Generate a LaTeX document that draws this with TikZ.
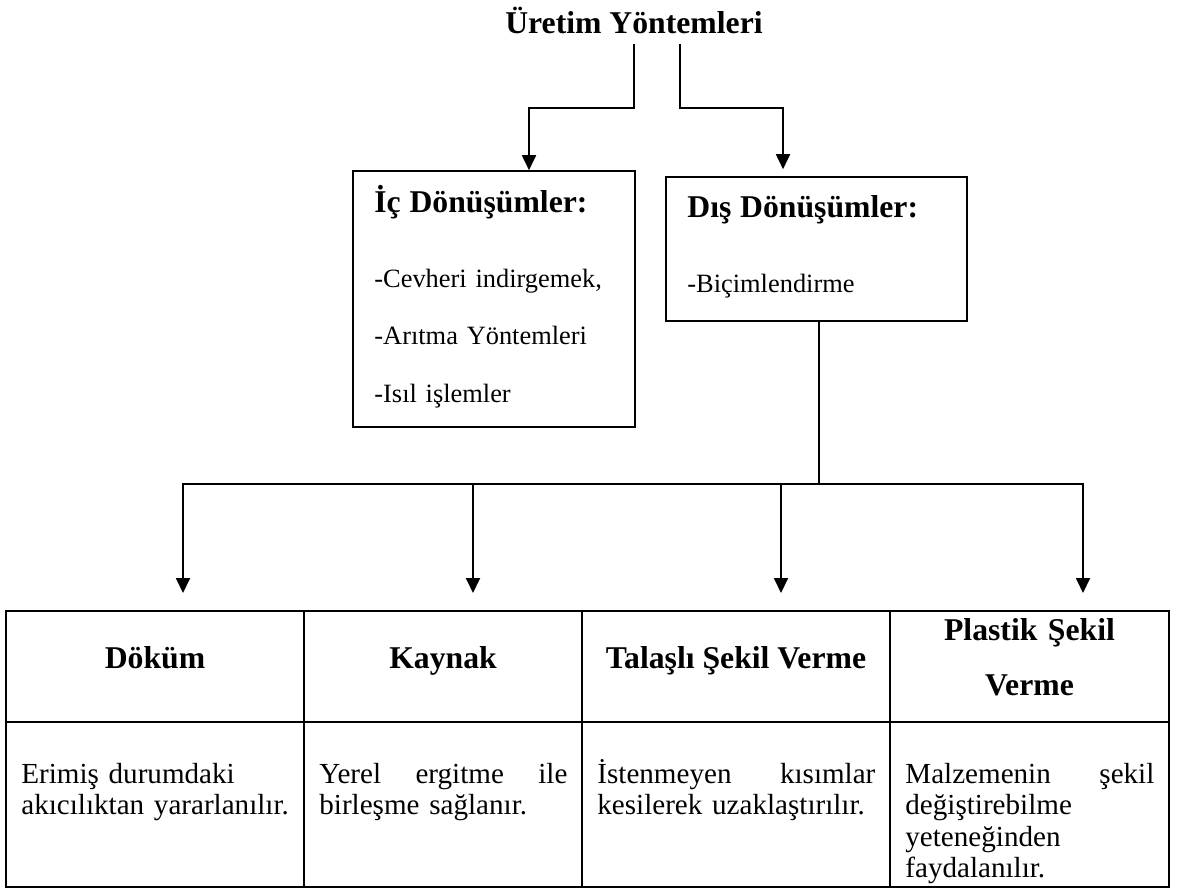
\documentclass[tikz,border=0pt]{standalone}
\usepackage{fontspec}
\setmainfont{Liberation Serif}
\usetikzlibrary{arrows.meta,calc,positioning}

\newcommand{\headfont}{\fontsize{15.85}{19}\selectfont\bfseries}
\newcommand{\boxfont}{\fontsize{13.2}{28.75}\selectfont}
\newcommand{\cellfont}{\fontsize{14.55}{15.75}\selectfont}
\newcommand{\jline}[2]{\makebox[#1][s]{\spaceskip=0pt\xspaceskip=0pt #2}}

\begin{document}
\begin{tikzpicture}[x=0.5pt,y=-0.5pt,>={Triangle[length=7.5pt,width=7pt]},
	box/.style={draw,line width=0.8pt,inner sep=0pt},
	cell/.style={draw,line width=1pt,inner sep=0pt,outer sep=0pt},
	head/.style={font=\headfont},
	body/.style={inner sep=0pt,font=\cellfont},
	conn/.style={line width=0.9pt},
	downarrow/.style={conn,->,shorten >=9pt}]
	\useasboundingbox (0,0) rectangle (1177,889);
	% top
	\node[head,anchor=base,inner sep=5pt] (title) at (634,33) {Üretim Yöntemleri};
	\node[box,minimum width=141pt,minimum height=128pt] (ic) at (494,299) {};
	\node[box,minimum width=150.5pt,minimum height=72pt] (dis) at (816.5,249) {};
	\node[anchor=base west,inner sep=0pt,text width=130pt,font=\boxfont] (ictext) at (374,212)
		{{\headfont İç Dönüşümler:}\\[8.75pt]-Cevheri indirgemek,\\-Arıtma Yöntemleri\\-Isıl işlemler};
	\node[anchor=base west,inner sep=0pt,text width=130pt,font=\boxfont] (distext) at (687,217)
		{{\headfont Dış Dönüşümler:}\\[8.75pt]-Biçimlendirme};
	% table
	\node[cell,minimum width=149pt,minimum height=55.5pt] (h1) at (155,666.5) {};
	\node[cell,minimum width=139pt,minimum height=55.5pt,right=0pt of h1] (h2) {};
	\node[cell,minimum width=154pt,minimum height=55.5pt,right=0pt of h2] (h3) {};
	\node[cell,minimum width=139.5pt,minimum height=55.5pt,right=0pt of h3] (h4) {};
	\node[cell,minimum width=149pt,minimum height=82.5pt,below=0pt of h1] (b1) {};
	\node[cell,minimum width=139pt,minimum height=82.5pt,below=0pt of h2] (b2) {};
	\node[cell,minimum width=154pt,minimum height=82.5pt,below=0pt of h3] (b3) {};
	\node[cell,minimum width=139.5pt,minimum height=82.5pt,below=0pt of h4] (b4) {};
	\node[head,anchor=base] (dokum) at (155,668) {Döküm};
	\node[head,anchor=base] (kaynak) at (443,668) {Kaynak};
	\node[head,anchor=base] (talasli) at (736,668) {Talaşlı Şekil Verme};
	\node[anchor=base,inner sep=0pt,text width=135pt,font=\fontsize{15.85}{27.5}\selectfont\bfseries] (plastik) at (1029.5,640) {\centering Plastik Şekil\\Verme\par};
	\node[body,anchor=base west,text width=136pt] (erimis) at (21,783) {Erimiş durumdaki\\akıcılıktan yararlanılır.};
	\node[body,anchor=base west,text width=124pt] (yerel) at (319,783) {\jline{124pt}{Yerel ergitme ile}\\birleşme sağlanır.};
	\node[body,anchor=base west,text width=139pt] (istenmeyen) at (597,783) {\jline{139pt}{İstenmeyen kısımlar}\\kesilerek uzaklaştırılır.};
	\node[body,anchor=base west,text width=124.5pt] (malzeme) at (905,783) {\jline{124.5pt}{Malzemenin şekil}\\değiştirebilme\\yeteneğinden\\faydalanılır.};
	% connectors
	\draw[conn,->] (title.south) -- ++(0,64) -| ($(ic.north)+(35,0)$);
	\draw[conn,->,shorten >=3.5pt] ($(title.south)+(46,0)$) -- ++(0,64) -| ($(dis.north)+(-33.5,0)$);
	\draw[conn] ($(dis.south)+(2.5,0)$) -- ++(0,162) coordinate (bar);
	\coordinate (in1) at ($(h1.north)+(28,0)$);
	\coordinate (in2) at ($(h2.north)+(30,0)$);
	\coordinate (in3) at ($(h3.north)+(45,0)$);
	\coordinate (in4) at ($(h4.north)+(53.5,0)$);
	\draw[downarrow] (bar) -| (in1);
	\draw[downarrow] (bar) -| (in4);
	\draw[downarrow] (in2 |- bar) -- (in2);
	\draw[downarrow] (in3 |- bar) -- (in3);
\end{tikzpicture}
\end{document}
